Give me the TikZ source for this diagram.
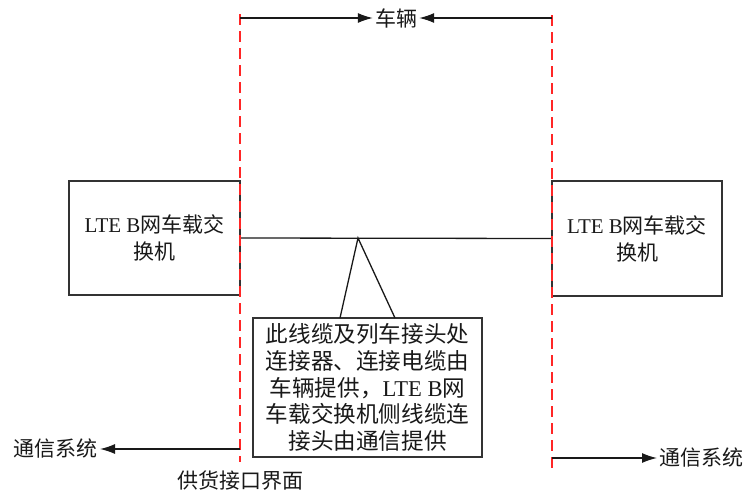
\documentclass[tikz,border=0pt]{standalone}
\usepackage{fontspec}
\setmainfont{Noto Sans CJK SC}
\newfontfamily\lat{Liberation Serif}
\usetikzlibrary{arrows.meta}
\begin{document}
\begin{tikzpicture}[x=1pt,y=-1pt,
  box/.style={draw=black!80,line width=1.2pt},
  lbl/.style={font=\fontsize{21}{27}\selectfont,text=black!90,inner sep=2pt},
  notetext/.style={font=\fontsize{22.6}{26.8}\selectfont,text=black!90},
  iface/.style={draw=red!85,line width=1.5pt,dash pattern=on 11pt off 6pt},
  conn/.style={draw=black!90,line width=1.3pt},
  arr/.style={conn,-{Latex[length=15pt,width=10pt]}}]
\useasboundingbox (0,0) rectangle (752,498);
% boxes
\node[box,lbl,minimum width=171pt,minimum height=114pt,align=center] (lb) at (154.5,238) {{\lat LTE B}网车载交\\换机};
\node[box,lbl,minimum width=170pt,minimum height=115pt,align=center] (rb) at (637,238.5) {{\lat LTE B}网车载交\\换机};
% middle cable
\draw[conn] (lb.east) -- (rb.west);
% callout
\node[box,notetext,minimum width=229pt,minimum height=139pt,align=center,inner sep=0pt] (note) at (367.5,387.5)
  {此线缆及列车接头处\\连接器、连接电缆由\\车辆提供，{\lat LTE B}网\\车载交换机侧线缆连\\接头由通信提供};
\coordinate (apex) at (358,238);
\coordinate (c1) at (340,318);
\coordinate (c2) at (395,318);
\draw[conn,line join=miter] (c1) -- (apex) -- (c2);
% interface lines
\coordinate (lt) at (240,14);
\coordinate (lbt) at (240,462);
\coordinate (rt) at (552,15);
\coordinate (rbt) at (552,468);
\draw[iface] (lt) -- (lbt);
\draw[iface] (rt) -- (rbt);
% top vehicle arrows
\node[lbl] (veh) at (396,18) {车辆};
\coordinate (va) at (240,18);
\coordinate (vb) at (552,18);
\draw[arr] (va) -- (veh.west);
\draw[arr] (vb) -- (veh.east);
% bottom arrows
\node[lbl,anchor=east] (lsys) at (100,449) {通信系统};
\coordinate (la) at (240,449);
\draw[arr] (la) -- (lsys.east);
\node[lbl,anchor=west] (rsys) at (657,458) {通信系统};
\coordinate (ra) at (552,458);
\draw[arr] (ra) -- (rsys.west);
\node[lbl] (iflbl) at (240,481) {供货接口界面};
\end{tikzpicture}
\end{document}
